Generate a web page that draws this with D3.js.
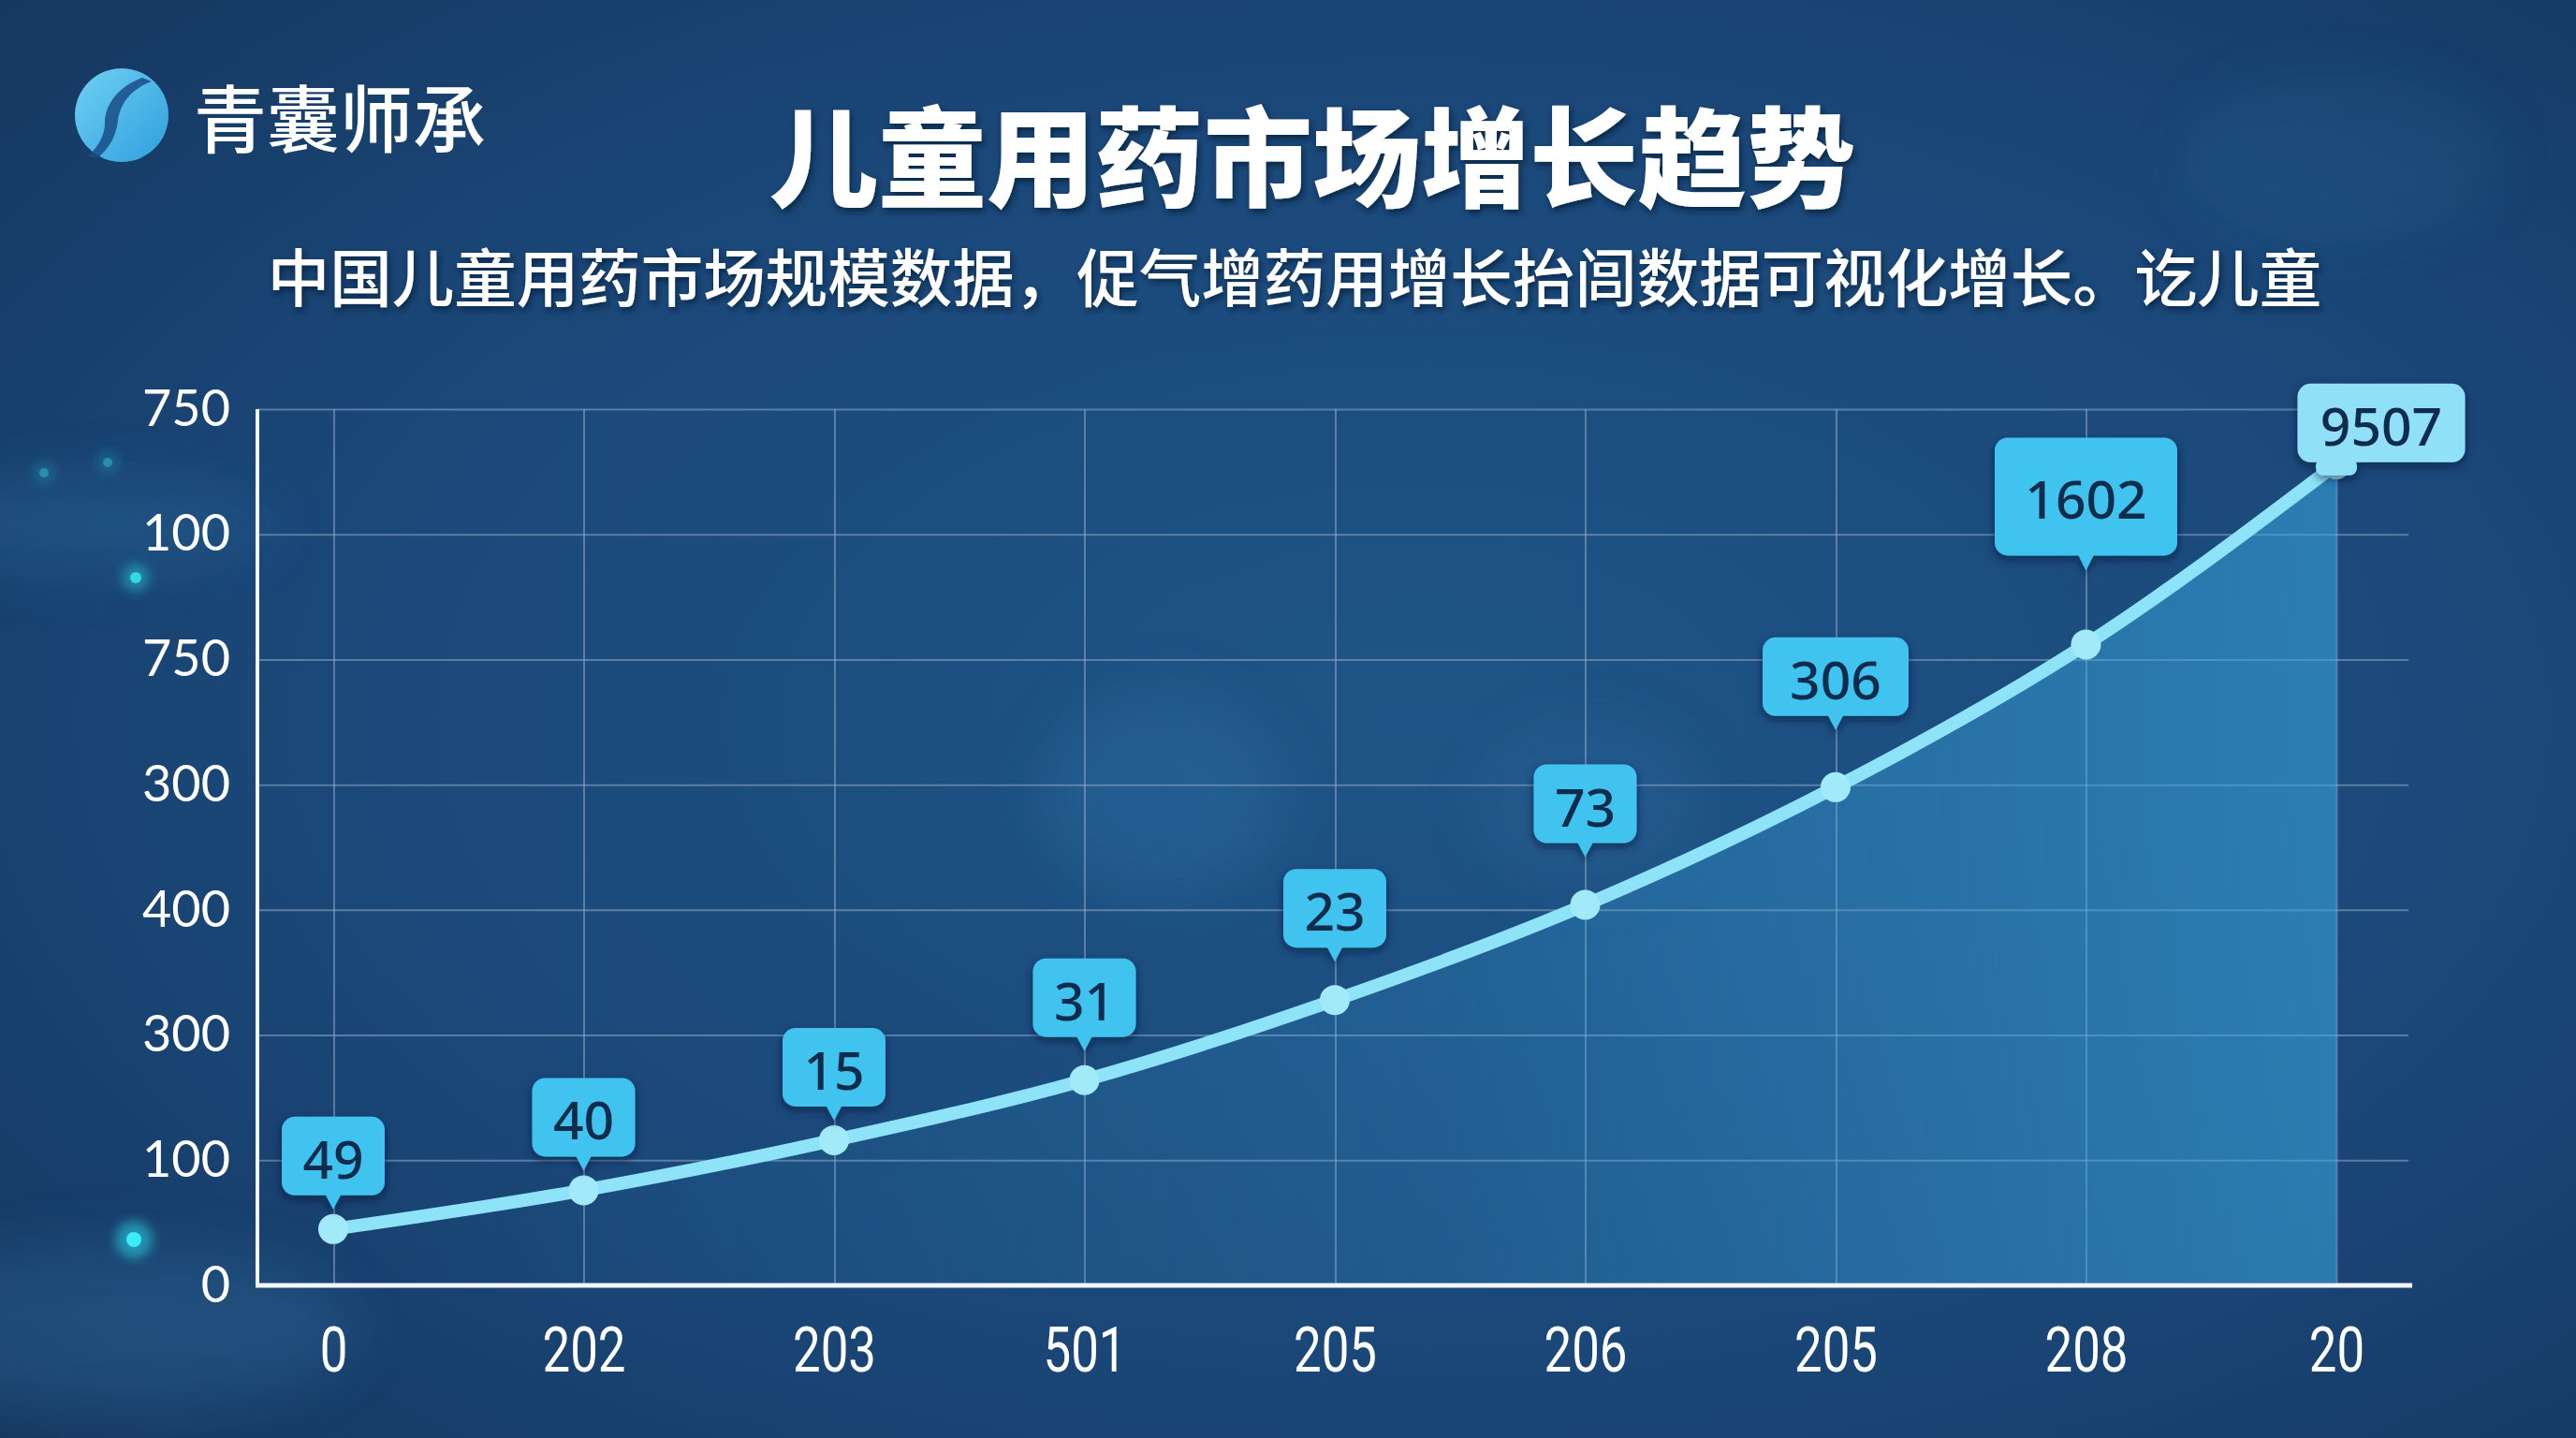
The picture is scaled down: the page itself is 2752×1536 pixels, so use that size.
<!DOCTYPE html>
<html>
  <head>
    <meta charset="utf-8">
    <title>儿童用药市场增长趋势</title>
    <script src="https://d3js.org/d3.v7.min.js" charset="utf-8"></script>
    <style>
      html, body { margin: 0; padding: 0; background: #183f6d; }
      svg { display: block; }
    </style>
  </head>
  <body>
    <script>
      // chart data (y values are in grid-row units)
      var xLabels = ["0", "202", "203", "501", "205", "206", "205", "208", "20"];
      var yTickLabels = ["0", "100", "300", "400", "300", "750", "100", "750"];
      var values = [0.45, 0.76, 1.16, 1.64, 2.28, 3.04, 3.98, 5.12, 6.56];
      var callouts = ["49", "40", "15", "31", "23", "73", "306", "1602", "9507"];

      var titleText = "儿童用药市场增长趋势";
      var subtitleText = "中国儿童用药市场规模数据，促气增药用增长抬闾数据可视化增长。讫儿童";
      var brandText = "青囊师承";

      var width = 2752;
      var height = 1536;
      var plotL = 275, plotR = 2573, plotT = 437, plotB = 1373;

      var svg = d3.select("body")
          .append("svg")
          .attr("width", width)
          .attr("height", height);

      var defs = svg.append("defs");

      // background gradient
      var bg = defs.append("radialGradient").attr("id", "bg")
        .attr("cx", "55%").attr("cy", "50%").attr("r", "75%");
      bg.append("stop").attr("offset", "0%").attr("stop-color", "#1f5588");
      bg.append("stop").attr("offset", "60%").attr("stop-color", "#1a4778");
      bg.append("stop").attr("offset", "100%").attr("stop-color", "#15375f");

      var area = defs.append("linearGradient").attr("id", "areaFill")
        .attr("x1", "0%").attr("x2", "100%").attr("y1", "0%").attr("y2", "0%");
      area.append("stop").attr("offset", "0%").attr("stop-color", "#3aa4dc").attr("stop-opacity", 0.0);
      area.append("stop").attr("offset", "55%").attr("stop-color", "#3aa4dc").attr("stop-opacity", 0.2);
      area.append("stop").attr("offset", "100%").attr("stop-color", "#3aa4dc").attr("stop-opacity", 0.58);

      var logoGrad = defs.append("linearGradient").attr("id", "logoGrad")
        .attr("x1", "0%").attr("x2", "100%").attr("y1", "0%").attr("y2", "100%");
      logoGrad.append("stop").attr("offset", "0%").attr("stop-color", "#6fd0f4");
      logoGrad.append("stop").attr("offset", "100%").attr("stop-color", "#2f9fdc");

      defs.append("filter").attr("id", "blur30")
        .attr("x", "-50%").attr("y", "-50%").attr("width", "200%").attr("height", "200%")
        .append("feGaussianBlur").attr("stdDeviation", 30);
      defs.append("filter").attr("id", "glow")
        .attr("x", "-200%").attr("y", "-200%").attr("width", "500%").attr("height", "500%")
        .append("feGaussianBlur").attr("stdDeviation", 6);

      var shadow = defs.append("filter").attr("id", "shadow")
        .attr("x", "-20%").attr("y", "-20%").attr("width", "140%").attr("height", "160%");
      shadow.append("feDropShadow").attr("dx", 0).attr("dy", 4).attr("stdDeviation", 5)
        .attr("flood-color", "#06162e").attr("flood-opacity", 0.55);

      var textShadow = defs.append("filter").attr("id", "textShadow")
        .attr("x", "-5%").attr("y", "-20%").attr("width", "110%").attr("height", "150%");
      textShadow.append("feDropShadow").attr("dx", 2).attr("dy", 4).attr("stdDeviation", 3)
        .attr("flood-color", "#061a33").attr("flood-opacity", 0.7);

      svg.append("rect").attr("width", width).attr("height", height).attr("fill", "url(#bg)");

      // soft background shapes
      var deco = svg.append("g").attr("filter", "url(#blur30)");
      deco.append("ellipse").attr("cx", 1240).attr("cy", 850).attr("rx", 130).attr("ry", 110)
        .attr("fill", "#3f8fc6").attr("opacity", 0.18);
      deco.append("ellipse").attr("cx", 1700).attr("cy", 860).attr("rx", 120).attr("ry", 90)
        .attr("fill", "#3f8fc6").attr("opacity", 0.12);
      deco.append("ellipse").attr("cx", 120).attr("cy", 1420).attr("rx", 260).attr("ry", 90)
        .attr("fill", "#3f8fc6").attr("opacity", 0.2);
      deco.append("ellipse").attr("cx", 90).attr("cy", 560).attr("rx", 200).attr("ry", 50)
        .attr("fill", "#3f8fc6").attr("opacity", 0.18);
      deco.append("ellipse").attr("cx", 2500).attr("cy", 170).attr("rx", 170).attr("ry", 90)
        .attr("fill", "#3f8fc6").attr("opacity", 0.1);

      var dots = [[47, 505, 5, 0.35], [115, 494, 5, 0.35], [145, 617, 6, 0.8], [143, 1324, 8, 1]];
      dots.forEach(function(d) {
        svg.append("circle").attr("cx", d[0]).attr("cy", d[1]).attr("r", d[2] * 2.5)
          .attr("fill", "#2fe3f2").attr("opacity", d[3] * 0.5).attr("filter", "url(#glow)");
        svg.append("circle").attr("cx", d[0]).attr("cy", d[1]).attr("r", d[2])
          .attr("fill", "#39ecf5").attr("opacity", d[3]);
      });

      // logo
      var logo = svg.append("g").attr("transform", "translate(130,123)");
      logo.append("circle").attr("r", 50).attr("fill", "url(#logoGrad)");
      logo.append("path")
        .attr("d", "M 22 -40 C -5 -30, -18 -10, -18 8 C -18 26, -30 38, -36 44 L -26 46 C -12 34, -6 22, -4 6 C -2 -12, 10 -28, 32 -36 Z")
        .attr("fill", "#1a4d86").attr("opacity", 0.85);
      svg.append("text").attr("x", 207).attr("y", 123)
        .attr("dominant-baseline", "central")
        .attr("font-family", "Noto Sans CJK SC").attr("font-weight", 500)
        .attr("font-size", 78).attr("fill", "#ffffff")
        .text(brandText);

      // title + subtitle
      svg.append("text").attr("x", 1402).attr("y", 161)
        .attr("text-anchor", "middle").attr("dominant-baseline", "central")
        .attr("font-family", "Noto Sans CJK SC").attr("font-weight", 900)
        .attr("font-size", 116).attr("fill", "#ffffff")
        .attr("filter", "url(#textShadow)")
        .text(titleText);

      svg.append("text").attr("x", 1383).attr("y", 293)
        .attr("text-anchor", "middle").attr("dominant-baseline", "central")
        .attr("font-family", "Noto Sans CJK SC").attr("font-weight", 500)
        .attr("font-size", 66.5).attr("fill", "#ffffff")
        .attr("filter", "url(#textShadow)")
        .text(subtitleText);

      // scales
      var x = d3.scaleLinear().domain([0, xLabels.length - 1]).range([356, 2496]);
      var y = d3.scaleLinear().domain([0, yTickLabels.length - 1]).range([plotB, plotT]);

      // y axis with horizontal grid
      var yAxis = svg.append("g")
        .attr("transform", "translate(" + plotL + ",0)")
        .call(d3.axisLeft(y)
          .tickValues(d3.range(yTickLabels.length))
          .tickFormat(function(i) { return yTickLabels[i]; })
          .tickSize(-(plotR - plotL))
          .tickSizeOuter(0)
          .tickPadding(29));
      yAxis.selectAll(".tick line").attr("stroke", "#8fa9c8").attr("stroke-opacity", 0.55).attr("stroke-width", 2);
      yAxis.select(".domain").remove();
      yAxis.selectAll(".tick text")
        .attr("font-family", "Lato").attr("font-size", 54).attr("fill", "#ffffff");

      // x axis with vertical grid
      var xAxis = svg.append("g")
        .attr("transform", "translate(0," + plotB + ")")
        .call(d3.axisBottom(x)
          .tickValues(d3.range(xLabels.length))
          .tickFormat(function(i) { return xLabels[i]; })
          .tickSize(-(plotB - plotT))
          .tickSizeOuter(0)
          .tickPadding(45));
      xAxis.selectAll(".tick line").attr("stroke", "#8fa9c8").attr("stroke-opacity", 0.55).attr("stroke-width", 2);
      xAxis.select(".domain").remove();
      xAxis.selectAll(".tick text")
        .attr("font-family", "Roboto").attr("font-size", 66).attr("fill", "#ffffff")
        .attr("transform", "scale(0.8,1)");

      // axis lines
      svg.append("line").attr("x1", plotL).attr("x2", plotL).attr("y1", plotT).attr("y2", plotB)
        .attr("stroke", "#f2f6fb").attr("stroke-width", 4);
      svg.append("line").attr("x1", plotL - 2).attr("x2", plotR + 4).attr("y1", plotB).attr("y2", plotB)
        .attr("stroke", "#f2f6fb").attr("stroke-width", 5);

      // area + line
      var pts = values.map(function(v, i) { return [i, v]; });
      var areaGen = d3.area()
        .x(function(d) { return x(d[0]); })
        .y0(plotB - 3)
        .y1(function(d) { return y(d[1]); })
        .curve(d3.curveMonotoneX);
      var lineGen = d3.line()
        .x(function(d) { return x(d[0]); })
        .y(function(d) { return y(d[1]); })
        .curve(d3.curveMonotoneX);

      svg.append("path").datum(pts).attr("d", areaGen).attr("fill", "url(#areaFill)");
      svg.append("path").datum(pts).attr("d", lineGen)
        .attr("fill", "none").attr("stroke", "#8ee3f8").attr("stroke-width", 14)
        .attr("stroke-linecap", "round").attr("stroke-linejoin", "round");

      svg.append("g").selectAll("circle")
        .data(pts)
        .enter()
        .append("circle")
        .attr("cx", function(d) { return x(d[0]); })
        .attr("cy", function(d) { return y(d[1]); })
        .attr("r", 16)
        .attr("fill", "#a2e9fa");

      // value callouts
      var tags = svg.append("g");
      pts.forEach(function(d, i) {
        var px = x(d[0]), py = y(d[1]);
        var label = callouts[i];
        var gap = 36 + Math.max(0, i - 2) * 10;
        var w = 18 + 46 * label.length, h = 84, cx = px, bot = py - gap, tip = bot + 15;
        var fill = "#40c3ef", fs = 57;
        if (i === 7) { w = 195; h = 126; bot = py - 95; tip = bot + 16; }
        if (i === 8) { w = 179; h = 84; bot = py - 2; cx = px + 48; tip = null; fill = "#90e1f7"; }

        var g = tags.append("g").attr("filter", "url(#shadow)");
        if (tip !== null) {
          g.append("path")
            .attr("d", "M" + (px - 9) + "," + (bot - 2) + " L" + (px + 9) + "," + (bot - 2) + " L" + px + "," + tip + " Z")
            .attr("fill", fill);
        } else {
          g.append("rect").attr("x", px - 22).attr("y", bot - 4).attr("width", 44).attr("height", 18)
            .attr("rx", 8).attr("fill", fill);
        }
        g.append("rect")
          .attr("x", cx - w / 2).attr("y", bot - h)
          .attr("width", w).attr("height", h)
          .attr("rx", 14)
          .attr("fill", fill);
        tags.append("text")
          .attr("x", cx).attr("y", bot - h / 2 + 2)
          .attr("text-anchor", "middle").attr("dominant-baseline", "central")
          .attr("font-family", "Noto Sans").attr("font-weight", 500)
          .attr("font-size", fs).attr("fill", "#0f2c4d")
          .text(label);
      });
    </script>
  </body>
</html>
